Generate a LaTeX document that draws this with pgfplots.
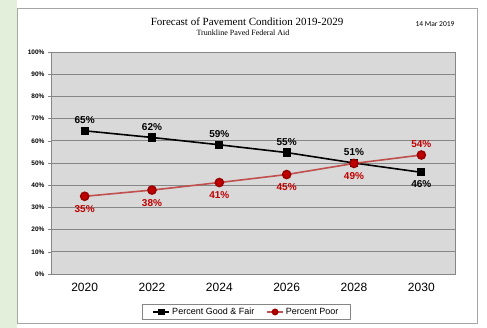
\documentclass[border=0pt]{standalone}
\usepackage{pgfplots}
\pgfplotsset{compat=1.18}
\usepackage{pgfplotstable}
\usepackage{fontspec}
\setmainfont{Liberation Sans}
\newfontfamily\serifft{Liberation Serif}
\newfontfamily\calib{Carlito}
\definecolor{bggreen}{HTML}{E3EFDA}
\definecolor{plotgray}{HTML}{D9D9D9}
\definecolor{gridgray}{HTML}{868686}
\definecolor{lred}{HTML}{C0504D}
\definecolor{dred}{HTML}{C00000}
\pgfplotstableread{
x y lab
0 64.5 65\%
1 61.5 62\%
2 58.2 59\%
3 54.7 55\%
4 50.0 51\%
5 45.8 46\%
}\good
\pgfplotstableread{
x y lab
0 35.0 35\%
1 37.8 38\%
2 41.2 41\%
3 44.8 45\%
4 49.8 49\%
5 53.6 54\%
}\poor
\begin{document}
\begin{tikzpicture}[x=1pt,y=1pt]
\fill[white] (0,0) rectangle (487,328);
\fill[bggreen] (0,0) rectangle (17,328);
\draw[gray!70, line width=0.8pt] (17.5,5) rectangle (477.5,320);
\node[font=\serifft\fontsize{11}{12}\selectfont] at (247,306) {Forecast of Pavement Condition 2019-2029};
\node[font=\serifft\fontsize{8}{9}\selectfont] at (243,295.5) {Trunkline Paved Federal Aid};
\node[font=\calib\fontsize{7.5}{9}\selectfont] at (435,304) {14 Mar 2019};
\begin{axis}[
  at={(51pt,54pt)}, anchor=south west,
  scale only axis, width=404pt, height=222pt,
  xmin=-0.5, xmax=5.5, ymin=0, ymax=100,
  axis background/.style={fill=plotgray},
  axis line style={gridgray},
  xtick={0,1,2,3,4,5},
  xticklabels={2020,2022,2024,2026,2028,2030},
  major x tick style={draw=none},
  extra x ticks={0.5,1.5,2.5,3.5,4.5},
  extra x tick labels={},
  extra x tick style={major tick style={draw=gridgray}, major tick length=3pt},
  x tick label style={font=\fontsize{12}{14}\selectfont, yshift=-3pt},
  ytick={0,10,...,100},
  yticklabel={\pgfmathprintnumber{\tick}\%},
  y tick label style={font=\bfseries\fontsize{6.5}{8}\selectfont},
  ymajorgrids, grid style={gridgray, line width=0.8pt},
  tick style={gridgray},
  tick align=outside, tick pos=left,
  major tick length=3pt,
  /pgf/number format/assume math mode=true,
  legend columns=2,
  legend style={at={(0.484,-0.171)}, anchor=center, draw=gridgray, font=\fontsize{9}{10}\selectfont, inner xsep=10pt, inner ysep=1.5pt, /tikz/every even column/.append style={column sep=10pt}},
  legend image code/.code={
    \draw[mark repeat=2,mark phase=2,#1, mark size=2.6pt] plot coordinates {(0pt,0pt) (8pt,0pt) (16pt,0pt)};},
  clip=false,
  lbl/.style={draw=none, mark=none, forget plot, point meta=explicit symbolic,
    nodes near coords={\pgfplotspointmeta},
    nodes near coords style={font=\bfseries\fontsize{10}{12}\selectfont, inner sep=4pt}},
]
\addplot[black, line width=1.6pt, mark=square*, mark size=3.3pt, mark options={fill=black}] table[x=x, y=y] {\good};
\addlegendentry{Percent Good \& Fair}
\addplot[lred, line width=1.6pt, mark=*, mark size=4pt, mark options={fill=dred, draw=dred!80!black}] table[x=x, y=y] {\poor};
\addlegendentry{Percent Poor}
% labels
\addplot[lbl, nodes near coords style={anchor=south, text=black, yshift=3pt}] table[x=x, y=y, meta=lab, skip coords between index={5}{6}] {\good};
\addplot[lbl, nodes near coords style={anchor=north, text=black, yshift=-4pt}] table[x=x, y=y, meta=lab, skip coords between index={0}{5}] {\good};
\addplot[lbl, nodes near coords style={anchor=north, text=dred, yshift=-5pt}] table[x=x, y=y, meta=lab, skip coords between index={5}{6}] {\poor};
\addplot[lbl, nodes near coords style={anchor=south, text=dred, yshift=3pt}] table[x=x, y=y, meta=lab, skip coords between index={0}{5}] {\poor};
\end{axis}
\end{tikzpicture}
\end{document}
